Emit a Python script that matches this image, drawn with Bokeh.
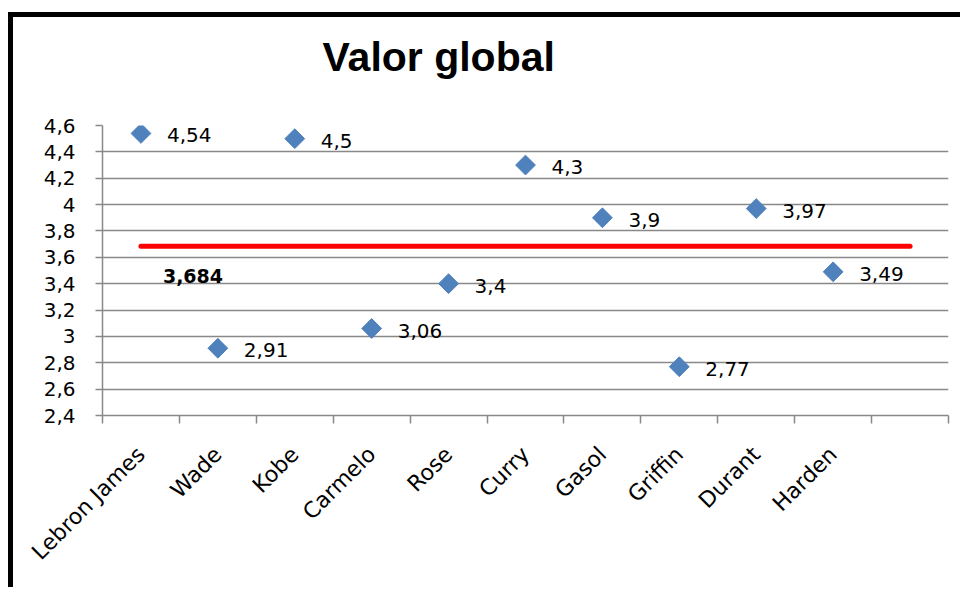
import numpy as np
from bokeh.plotting import figure
from bokeh.models import ColumnDataSource, FixedTicker, Range1d, Title
from bokeh.core.properties import value
from bokeh.embed import file_html
from bokeh.resources import INLINE

# ---- data ----
categories = ["Lebron James", "Wade", "Kobe", "Carmelo", "Rose",
              "Curry", "Gasol", "Griffin", "Durant", "Harden", ""]
players = categories[:10]
scores = [4.54, 2.91, 4.5, 3.06, 3.4, 4.3, 3.9, 2.77, 3.97, 3.49]
average = 3.684
y_ticks = [2.4, 2.6, 2.8, 3.0, 3.2, 3.4, 3.6, 3.8, 4.0, 4.2, 4.4, 4.6]
title_text = "Valor global"

FONT = "DejaVu Sans"
TITLE_FONT = "Liberation Sans"
GRID = "#898989"
W, H = 952, 575


def fmt(v):
    return f"{v:g}".replace(".", ",")


xs = list(range(1, len(players) + 1))
src = ColumnDataSource(dict(x=xs, y=scores, label=[fmt(v) for v in scores]))
avg_src = ColumnDataSource(dict(x=[1, len(categories)], y=[average, average]))
avg_lbl = ColumnDataSource(dict(x=[1], y=[average], label=[fmt(average)]))

p = figure(width=W, height=H, output_backend="svg", toolbar_location=None,
           x_range=Range1d(0.5, len(categories) + 0.5),
           y_range=Range1d(y_ticks[0], y_ticks[-1]),
           min_border_left=89, min_border_right=17,
           min_border_top=108, min_border_bottom=177, title=None)
p.styles = {"border-left": "5px solid black", "border-top": "5px solid black",
            "margin-top": "12px", "margin-left": "8px"}

# blank spacer between plot frame and the chart title
p.add_layout(Title(text=" ", text_font=TITLE_FONT, text_font_size="28px",
                   standoff=0), "above")
p.add_layout(Title(text=title_text, text_font=TITLE_FONT,
                   text_font_size="41px", text_font_style="bold",
                   text_color="black", align="left", offset=220,
                   standoff=26), "above")

p.outline_line_color = None
p.background_fill_color = "white"
p.border_fill_color = "white"

# y axis
p.yaxis.ticker = FixedTicker(ticks=y_ticks, minor_ticks=[])
p.yaxis.major_label_overrides = {t: fmt(t) for t in y_ticks}
p.yaxis.major_label_text_font = FONT
p.yaxis.major_label_text_font_size = "20px"
p.yaxis.major_label_text_color = "black"
p.yaxis.axis_line_color = GRID
p.yaxis.axis_line_width = 1.5
p.yaxis.major_tick_line_color = GRID
p.yaxis.major_tick_line_width = 1.5
p.yaxis.major_tick_out = 7
p.yaxis.major_tick_in = 0
p.yaxis.major_label_standoff = 20

# x axis: labels at category centers, tick marks at boundaries (minor ticks)
bounds = [i + 0.5 for i in range(len(categories) + 1)]
p.xaxis.ticker = FixedTicker(ticks=xs, minor_ticks=bounds)
p.xaxis.major_label_overrides = {x: c for x, c in zip(xs, players)}
p.xaxis.major_label_orientation = np.pi / 4
p.xaxis.major_label_text_font = FONT
p.xaxis.major_label_text_font_size = "22px"
p.xaxis.major_label_text_color = "black"
p.xaxis.major_label_standoff = 27
p.xaxis.axis_line_color = GRID
p.xaxis.axis_line_width = 1.5
p.xaxis.major_tick_out = 0
p.xaxis.major_tick_in = 0
p.xaxis.minor_tick_out = 8
p.xaxis.minor_tick_in = 0
p.xaxis.minor_tick_line_color = GRID
p.xaxis.minor_tick_line_width = 1.5

p.xgrid.grid_line_color = None
p.ygrid.ticker = FixedTicker(ticks=y_ticks)
p.ygrid.grid_line_color = GRID
p.ygrid.grid_line_width = 1.5

# average line
p.line("x", "y", source=avg_src, line_color="#FF0000", line_width=5,
       line_cap="round")
p.text("x", "y", text="label", source=avg_lbl, x_offset=52, y_offset=30,
       text_align="center", text_baseline="middle",
       text_font=value(FONT), text_font_size="19px", text_font_style="bold",
       text_color="black")

# points
p.scatter("x", "y", source=src, marker="square", angle=np.pi / 4, size=14,
          fill_color="#4F81BD", line_color="#4F81BD")
p.text("x", "y", text="label", source=src, x_offset=26, y_offset=2,
       text_align="left", text_baseline="middle",
       text_font=value(FONT), text_font_size="20px", text_color="black")

open("out.html", "w").write(file_html(p, INLINE))
